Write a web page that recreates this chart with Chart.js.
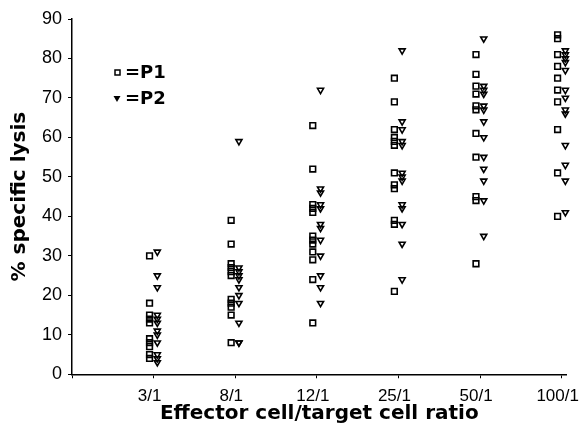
<!DOCTYPE html>
<html>
<head>
<meta charset="utf-8">
<script src="https://cdn.jsdelivr.net/npm/chart.js@4/dist/chart.umd.min.js"></script>
<style>
  html, body { margin: 0; padding: 0; background: #fff; }
  #wrap { width: 583px; height: 426px; }
</style>
</head>
<body>
<div id="wrap"><canvas id="lysisChart" width="583" height="426"></canvas></div>
<script>
// effector : target ratios on the x axis
let ratioLabels = ['3/1', '8/1', '12/1', '25/1', '50/1', '100/1'];
let yTicks = [0, 10, 20, 30, 40, 50, 60, 70, 80, 90];

// % specific lysis, P1 (squares), one list per ratio
let p1At3 = [30, 18, 15, 14, 13, 9, 8, 7, 5, 4];
let p1At8 = [39, 33, 28, 27, 26, 25, 19, 18, 17, 15, 8];
let p1At12 = [63, 52, 43, 42, 41, 35, 34, 33, 31, 29, 24, 13];
let p1At25 = [75, 69, 62, 60, 59, 58, 51, 48, 47, 39, 38, 21];
let p1At50 = [81, 76, 73, 71, 68, 67, 61, 55, 45, 44, 28];
let p1At100 = [86, 85, 81, 78, 75, 72, 69, 62, 51, 40];

// % specific lysis, P2 (triangles)
let p2At3 = [31, 25, 22, 15, 14, 13, 11, 10, 8, 5, 4, 3];
let p2At8 = [59, 27, 26, 25, 24, 22, 20, 18, 13, 8, 8];
let p2At12 = [72, 47, 46, 43, 42, 38, 37, 34, 30, 25, 22, 18];
let p2At25 = [82, 64, 62, 59, 58, 51, 50, 49, 43, 42, 38, 33, 24];
let p2At50 = [85, 73, 72, 71, 68, 67, 64, 60, 55, 52, 49, 44, 35];
let p2At100 = [82, 81, 80, 79, 77, 72, 70, 67, 66, 58, 53, 49, 41];

let p1Lists = [p1At3, p1At8, p1At12, p1At25, p1At50, p1At100];
let p2Lists = [p2At3, p2At8, p2At12, p2At25, p2At50, p2At100];

// squares sit a little left of the tick, triangles a little right
function toPoints(lists, shift)
{
    let pts = [];
    lists.forEach(function(vals, i){
        vals.forEach(function(v){
            pts.push({ x: i + 1 + shift, y: v });
        });
    });
    return pts;
}

let tickFont = "'Liberation Sans', Arial, Helvetica, sans-serif";
let titleFont = "'DejaVu Sans', Verdana, sans-serif";

// legend drawn inside the plot, top left
let keyPlugin = {
    id: 'keyPlugin',
    afterDraw: function(chart){
        let ctx = chart.ctx;
        ctx.save();
        ctx.strokeStyle = '#000';
        ctx.lineWidth = 1.5;
        ctx.strokeRect(115, 70, 5, 5);
        ctx.fillStyle = '#000';
        ctx.beginPath();
        ctx.moveTo(113.5, 96);
        ctx.lineTo(120.5, 96);
        ctx.lineTo(117, 102);
        ctx.closePath();
        ctx.fill();
        ctx.font = "bold 18px " + titleFont;
        ctx.textBaseline = 'middle';
        ctx.fillText('=P1', 125, 73);
        ctx.fillText('=P2', 125, 99);
        ctx.restore();
    }
};

let ctx = document.getElementById('lysisChart');
new Chart(ctx, {
    type: 'scatter',
    data: {
        datasets: [
            {
                label: 'P1',
                data: toPoints(p1Lists, -0.05),
                pointStyle: 'rect',
                pointRadius: 4,
                borderWidth: 1.6,
                borderColor: '#000',
                backgroundColor: 'rgba(255,255,255,0)',
                clip: false
            },
            {
                label: 'P2',
                data: toPoints(p2Lists, 0.045),
                pointStyle: 'triangle',
                rotation: 180,
                pointRadius: 3.5,
                borderWidth: 1.6,
                borderColor: '#000',
                backgroundColor: 'rgba(255,255,255,0)',
                clip: false
            }
        ]
    },
    options: {
        responsive: false,
        animation: false,
        layout: { padding: { top: 19, right: 0, left: 8, bottom: 0 } },
        plugins: {
            legend: { display: false },
            tooltip: { enabled: false }
        },
        scales: {
            x: {
                type: 'linear',
                min: 0,
                max: 6.06,
                afterBuildTicks: function(axis){
                    axis.ticks = [0, 1, 2, 3, 4, 5, 6].map(function(v){ return { value: v }; });
                },
                ticks: {
                    color: '#000',
                    // tall line height pushes labels down without widening side padding
                    font: { family: tickFont, size: 17, lineHeight: 2.16 },
                    padding: 0,
                    labelOffset: -4,
                    maxRotation: 0,
                    autoSkip: false,
                    callback: function(v){ return v >= 1 ? ratioLabels[v - 1] : ''; }
                },
                grid: { drawOnChartArea: false, tickLength: 4, color: '#000', lineWidth: 1 },
                border: { color: '#000', width: 1.5 },
                title: {
                    display: true,
                    text: 'Effector cell/target cell ratio',
                    color: '#000',
                    font: { family: titleFont, size: 20, weight: 'bold' },
                    padding: { top: -13, bottom: 0 }
                }
            },
            y: {
                min: 0,
                max: 90,
                afterBuildTicks: function(axis){
                    axis.ticks = yTicks.map(function(v){ return { value: v }; });
                },
                ticks: {
                    color: '#000',
                    font: { family: tickFont, size: 18 },
                    padding: 6
                },
                grid: { drawOnChartArea: false, tickLength: 4, color: '#000', lineWidth: 1 },
                border: { color: '#000', width: 1.5 },
                title: {
                    display: true,
                    text: '% specific lysis',
                    color: '#000',
                    font: { family: titleFont, size: 20, weight: 'bold' },
                    padding: { top: 0, bottom: 4 }
                }
            }
        }
    },
    plugins: [keyPlugin]
});
</script>
</body>
</html>
